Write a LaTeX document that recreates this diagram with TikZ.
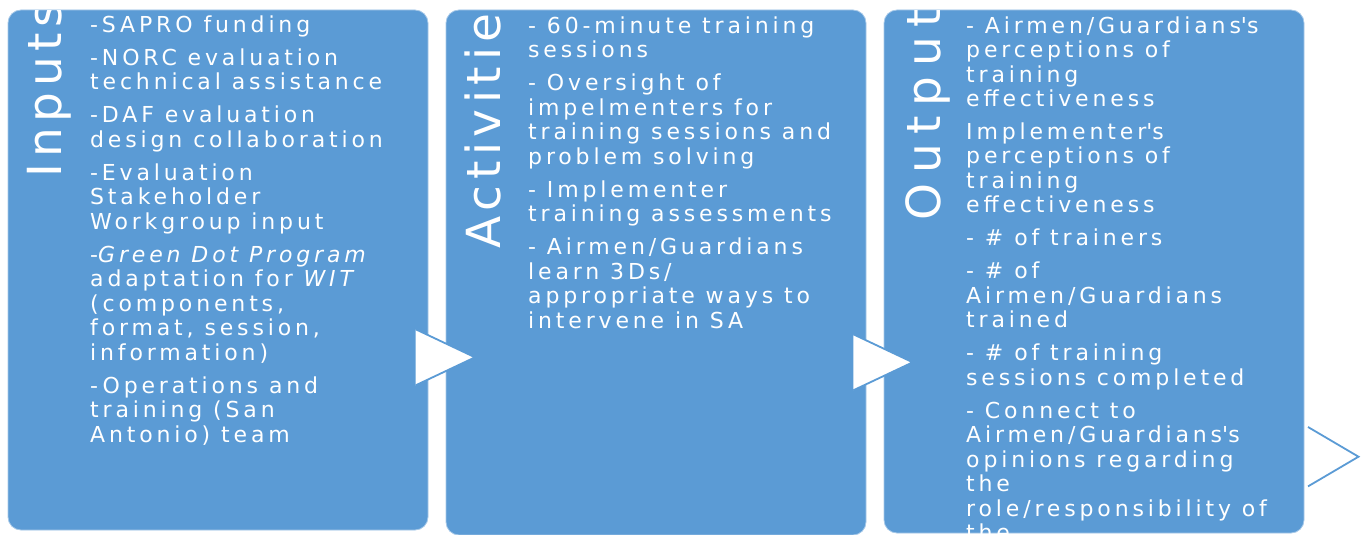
\documentclass[tikz,border=0pt]{standalone}
\usepackage{fontspec}
\newfontfamily\bodyfont{DejaVu Sans}[LetterSpace=17.5]
\newfontfamily\titlefont{DejaVu Sans}[LetterSpace=12]
\newfontfamily\widetitlefont{DejaVu Sans}[LetterSpace=20.5]
\definecolor{boxblue}{HTML}{5B9BD5}
\colorlet{boxedge}{white!45!boxblue}

\begin{document}
\begin{tikzpicture}[x=1pt,y=-1pt,
  panel/.style={rectangle, fill=boxblue, draw=boxedge, line width=0.8pt,
    rounded corners=13pt, inner sep=0pt, outer sep=0pt, anchor=north west},
  paneltitle/.style={anchor=base west, rotate=90, inner sep=0pt, text=white,
    font=\titlefont\fontsize{47}{50}\selectfont},
  % multi-line text nodes sit on the baseline of their last line
  bodytext/.style={anchor=base west, inner sep=0pt, align=left, text=white,
    font=\bodyfont\fontsize{22}{24.5}\selectfont},
  flowedge/.style={draw=boxblue, line width=1.8pt, line join=miter}]

\useasboundingbox (0,0) rectangle (1361,535);

% the three stage panels
\node[panel, minimum width=420pt, minimum height=520pt] (inputs) at (8,10) {};
\node[panel, minimum width=420pt, minimum height=525pt] (activities) at (446,10) {};
\node[panel, minimum width=420pt, minimum height=523pt] (outputs) at (884,10) {};

% Inputs
\begin{scope}
  \clip[rounded corners=13pt] (inputs.north west) rectangle (inputs.south east);
  \node[paneltitle] (inputsTitle) at (61.7,177.6) {Inputs};
  \node[bodytext] (inputsText) at (90,442.3) {%
    -SAPRO funding\\[8.5pt]
    -NORC evaluation\\
    technical assistance\\[8.5pt]
    -DAF evaluation\\
    design collaboration\\[8.5pt]
    -Evaluation\\
    Stakeholder\\
    Workgroup input\\[8.5pt]
    -\textit{Green Dot Program}\\
    adaptation for \textit{WIT}\\
    (components,\\
    format, session,\\
    information)\\[8.5pt]
    -Operations and\\
    training (San\\
    Antonio) team};
\end{scope}

% Activities
\begin{scope}
  \clip[rounded corners=13pt] (activities.north west) rectangle (activities.south east);
  \node[paneltitle] (activitiesTitle) at (500,248.6) {Activities};
  \node[bodytext] (activitiesText) at (528,328.3) {%
    - 60-minute training\\
    sessions\\[8.5pt]
    - Oversight of\\
    impelmenters for\\
    training sessions and\\
    problem solving\\[8.5pt]
    - Implementer\\
    training assessments\\[8.5pt]
    - Airmen/Guardians\\
    learn 3Ds/\\
    appropriate ways to\\
    intervene in SA};
\end{scope}

% Outputs
\begin{scope}
  \clip[rounded corners=13pt] (outputs.north west) rectangle (outputs.south east);
  \node[paneltitle, font=\widetitlefont\fontsize{47}{50}\selectfont]
    (outputsTitle) at (940.5,220.6) {Outputs};
  \node[bodytext] (outputsText) at (966,540.8) {%
    - Airmen/Guardians\textquotesingle s\\
    perceptions of\\
    training\\
    effectiveness\\[8pt]
    Implementer\textquotesingle s\\
    perceptions of\\
    training\\
    effectiveness\\[8.5pt]
    - \# of trainers\\[8.5pt]
    - \# of\\
    Airmen/Guardians\\
    trained\\[8.5pt]
    - \# of training\\
    sessions completed\\[8.5pt]
    - Connect to\\
    Airmen/Guardians\textquotesingle s\\
    opinions regarding\\
    the\\
    role/responsibility of\\
    the};
\end{scope}

% flow arrows between the panels
\coordinate (a1) at (415.7,329.3);
\coordinate (t1) at (475,357.3);
\coordinate (b1) at (415.7,385.3);
\fill[white] (a1) -- (t1) -- (b1) -- cycle;
\draw[flowedge] (a1) -- (t1) -- (b1);

\coordinate (a2) at (853.3,334.3);
\coordinate (t2) at (912.7,362.3);
\coordinate (b2) at (853.3,390.3);
\fill[white] (a2) -- (t2) -- (b2) -- cycle;
\draw[flowedge] (a2) -- (t2) -- (b2);

\coordinate (a3) at (1308,427);
\coordinate (t3) at (1358.5,456.7);
\coordinate (b3) at (1308,486.4);
\fill[white] (a3) -- (t3) -- (b3) -- cycle;
\draw[flowedge] (a3) -- (t3) -- (b3);

\end{tikzpicture}
\end{document}
